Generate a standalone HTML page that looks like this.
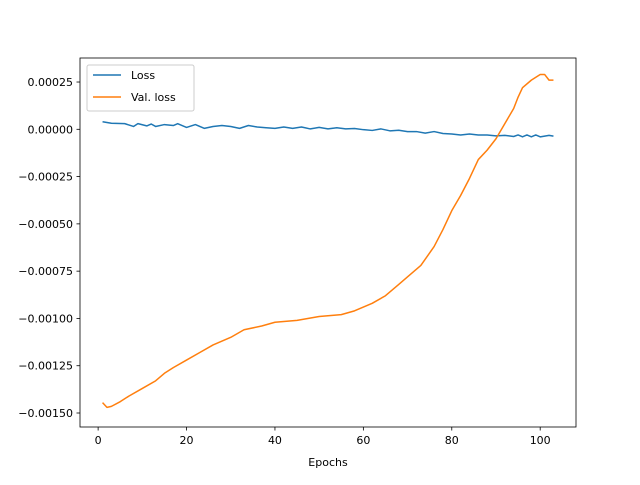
<!DOCTYPE html>
<html><head><meta charset="utf-8"><style>
body{margin:0;background:#fff}
svg text{font-family:"DejaVu Sans","Liberation Sans",sans-serif;font-size:11px;fill:#000}
</style></head><body>
<svg id="chart" width="640" height="480" xmlns="http://www.w3.org/2000/svg">
<rect width="640" height="480" fill="#fff"/>
<g id="plot"></g>
</svg>
<script>
const xTicks=[0,20,40,60,80,100];
const yTicks=[0.00025,0,-0.00025,-0.0005,-0.00075,-0.001,-0.00125,-0.0015];
const yTickLabels=["0.00025","0.00000","−0.00025","−0.00050","−0.00075","−0.00100","−0.00125","−0.00150"];
const lossEpochs=[1,3,6,8,9,11,12,13,15,17,18,20,22,24,26,28,30,32,34,36,38,40,42,44,46,48,50,52,54,56,58,60,62,64,66,68,70,72,74,76,78,80,82,84,86,88,90,92,94,95,96,97,98,99,100,102,103];
const lossValues=[0.00004,0.000032,0.00003,0.000015,0.00003,0.000018,0.000028,0.000015,0.000025,0.00002,0.00003,0.00001,0.000025,0.000005,0.000015,0.00002,0.000015,0.000005,0.00002,0.000012,0.000008,0.000005,0.000012,0.000005,0.000012,0.000002,0.00001,0.000002,0.000008,0.000002,0.000004,-0.000002,-0.000006,0.000002,-0.000008,-0.000005,-0.000012,-0.000012,-0.00002,-0.000012,-0.000022,-0.000025,-0.00003,-0.000025,-0.00003,-0.00003,-0.000035,-0.000032,-0.000038,-0.00003,-0.00004,-0.00003,-0.00004,-0.00003,-0.00004,-0.000032,-0.000036];
const valEpochs=[1,2,3,5,7,10,13,15,17,20,23,26,30,33,37,40,45,50,55,58,62,65,68,70,73,76,78,80,82,84,86,88,90,92,94,95,96,98,100,101,102,103];
const valValues=[-0.001445,-0.00147,-0.001465,-0.00144,-0.00141,-0.00137,-0.00133,-0.00129,-0.00126,-0.00122,-0.00118,-0.00114,-0.0011,-0.00106,-0.00104,-0.00102,-0.00101,-0.00099,-0.00098,-0.00096,-0.00092,-0.00088,-0.00082,-0.00078,-0.00072,-0.00062,-0.00053,-0.00043,-0.00035,-0.00026,-0.00016,-0.00011,-0.00005,0.00003,0.00011,0.00017,0.00022,0.00026,0.00029,0.00029,0.00026,0.00026];
const L=80,R=576,T=58,B=427;
const xMin=-4.1,xMax=108.1,yMin=-0.001574,yMax=0.000377;
const X=v=>L+(v-xMin)/(xMax-xMin)*(R-L);
const Y=v=>B-(v-yMin)/(yMax-yMin)*(B-T);
const g=document.getElementById('plot');
const NS='http://www.w3.org/2000/svg';
function mk(t,a,p){const e=document.createElementNS(NS,t);for(const k in a)e.setAttribute(k,a[k]);(p||g).appendChild(e);return e;}
function line(xs,ys,c,n){const p=mk('polyline',{points:xs.map((x,i)=>X(x)+','+Y(ys[i])).join(' '),fill:'none',stroke:c,'stroke-width':1.5,'stroke-linejoin':'round'});

}
line(lossEpochs,lossValues,'#1f77b4','loss-line');
line(valEpochs,valValues,'#ff7f0e','val-loss-line');
const fr=mk('rect',{x:L,y:T,width:R-L,height:B-T,fill:'none',stroke:'#000','stroke-width':0.8});


xTicks.forEach(v=>{mk('line',{x1:X(v),x2:X(v),y1:B,y2:B+3.5,stroke:'#000','stroke-width':0.8});
const t=mk('text',{x:X(v),y:B+17,'text-anchor':'middle'});t.textContent=v;

});
yTicks.forEach((v,i)=>{mk('line',{x1:L-3.5,x2:L,y1:Y(v),y2:Y(v),stroke:'#000','stroke-width':0.8});
const t=mk('text',{x:L-7,y:Y(v)+4,'text-anchor':'end'});t.textContent=yTickLabels[i];

});
const xt=mk('text',{x:(L+R)/2,y:466,'text-anchor':'middle'});xt.textContent='Epochs';


const lg=mk('g',{});


mk('rect',{x:87,y:65,width:107,height:46,rx:2,fill:'#fff',stroke:'#ccc','stroke-width':1},lg);
[['Loss','#1f77b4',75],['Val. loss','#ff7f0e',97]].forEach(([n,c,y])=>{
mk('line',{x1:93,x2:121,y1:y,y2:y,stroke:c,'stroke-width':1.5},lg);
const t=mk('text',{x:131,y:y+4},lg);t.textContent=n;

});
</script>
</body></html>
